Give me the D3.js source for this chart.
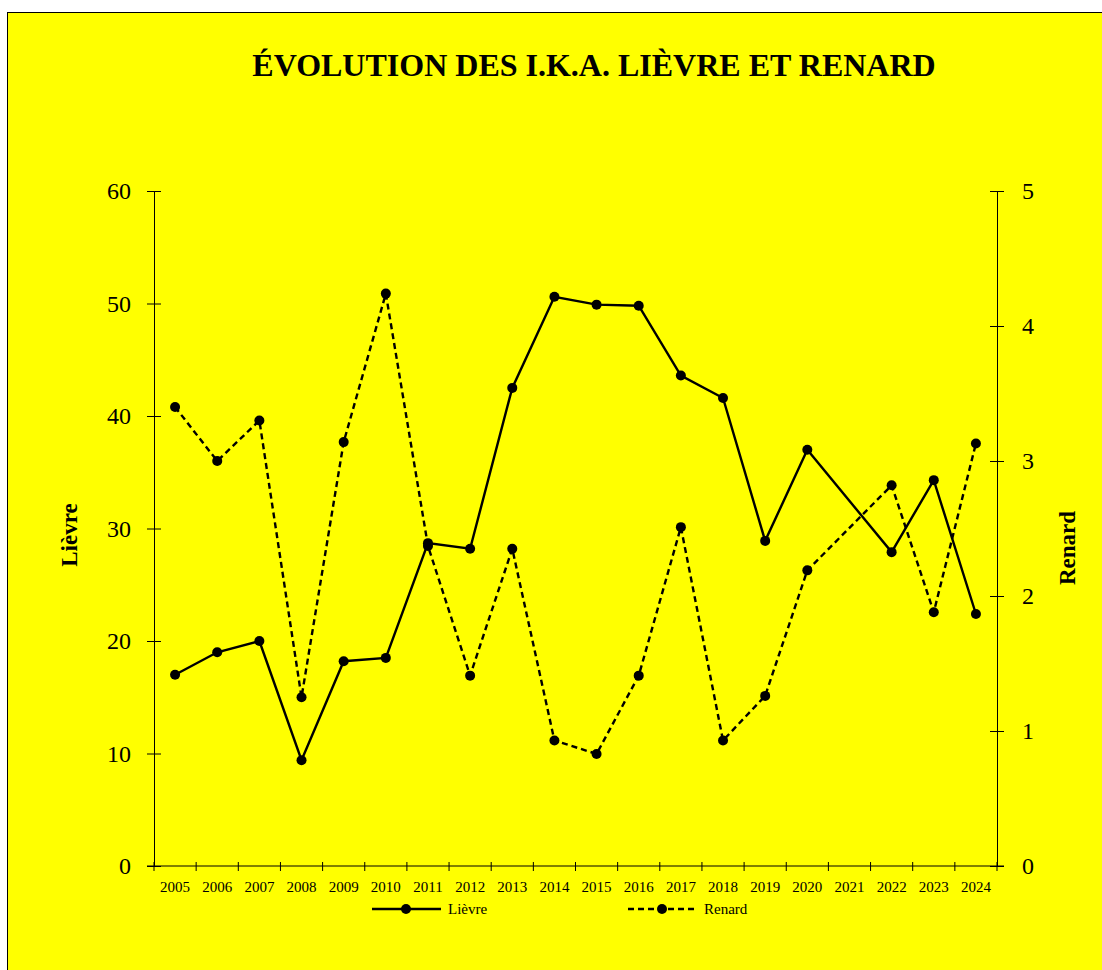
<!DOCTYPE html>
<html>
<head>
<meta charset="utf-8">
<script src="https://cdn.jsdelivr.net/npm/d3@7"></script>
<style>
  body { margin: 0; background: #fff; }
  svg { display: block; font-family: "Liberation Serif", "Times New Roman", serif; }
</style>
</head>
<body>
<div class="chart"></div>
<script>
// data
var years = ['2005','2006','2007','2008','2009','2010','2011','2012','2013','2014',
             '2015','2016','2017','2018','2019','2020','2021','2022','2023','2024'];
var lievre = [17, 19, 20, 9.4, 18.2, 18.5, 28.7, 28.2, 42.5, 50.6,
              49.9, 49.8, 43.6, 41.6, 28.9, 37, null, 27.9, 34.3, 22.4];
var renard = [3.4, 3.0, 3.3, 1.25, 3.14, 4.24, 2.37, 1.41, 2.35, 0.93,
              0.83, 1.41, 2.51, 0.93, 1.26, 2.19, null, 2.82, 1.88, 3.13];
var leftTicks = [0, 10, 20, 30, 40, 50, 60];
var rightTicks = [0, 1, 2, 3, 4, 5];
var legends = [{ text: 'Lièvre', dash: null }, { text: 'Renard', dash: '6,4' }];

var W = 1102, H = 970,
  plot = { left: 154, right: 997, top: 191, bottom: 866 };

var svg = d3.select('.chart')
  .append('svg')
    .attr('width', W)
    .attr('height', H);

// yellow frame
svg.append('rect')
  .attr('x', 7.5).attr('y', 12.5)
  .attr('width', W).attr('height', H)
  .attr('fill', '#ffff00')
  .attr('stroke', '#000')
  .attr('stroke-width', 1);

svg.append('text')
  .attr('x', 594).attr('y', 76)
  .attr('text-anchor', 'middle')
  .style('font-size', '32px')
  .style('font-weight', 'bold')
  .text('ÉVOLUTION DES I.K.A. LIÈVRE ET RENARD');

var x = d3.scaleBand()
  .domain(years)
  .range([plot.left, plot.right])
  .padding(0);

var yL = d3.scaleLinear().domain([0, 60]).range([plot.bottom, plot.top]);
var yR = d3.scaleLinear().domain([0, 5]).range([plot.bottom, plot.top]);

// left axis
var gL = svg.append('g')
  .attr('transform', `translate(${plot.left}, 0)`)
  .call(d3.axisLeft(yL).tickValues(leftTicks).tickSize(7).tickPadding(16).tickSizeOuter(0));
gL.selectAll('.tick line').attr('x2', -7).attr('x1', 7);
gL.selectAll('text').style('font-size', '24px').style('font-family', 'Liberation Serif');

// right axis
var gR = svg.append('g')
  .attr('transform', `translate(${plot.right}, 0)`)
  .call(d3.axisRight(yR).tickValues(rightTicks).tickFormat(d3.format('d'))
    .tickSize(7).tickPadding(18).tickSizeOuter(0));
gR.selectAll('.tick line').attr('x1', -7).attr('x2', 7);
gR.selectAll('text').style('font-size', '24px').style('font-family', 'Liberation Serif');

// x axis: labels centered in bands, ticks at band edges
var gX = svg.append('g')
  .attr('transform', `translate(0, ${plot.bottom})`)
  .call(d3.axisBottom(x).tickSize(0).tickPadding(15).tickSizeOuter(0));
gX.select('.domain').attr('d', `M${plot.left - 7},0H${plot.right + 7}`);
gX.selectAll('text').style('font-size', '15px').style('font-family', 'Liberation Serif');
gX.selectAll('.edge')
  .data(years.map(d => x(d)).concat([plot.right]))
  .enter()
  .append('line')
    .attr('class', 'edge')
    .attr('x1', d => d).attr('x2', d => d)
    .attr('y1', -4).attr('y2', 5)
    .attr('stroke', '#000');

gX.selectAll('path, line').attr('stroke', '#000');
gL.selectAll('path, line').attr('stroke', '#000');
gR.selectAll('path, line').attr('stroke', '#000');

// axis titles
svg.append('text')
  .attr('transform', 'translate(77, 535) rotate(-90)')
  .attr('text-anchor', 'middle')
  .style('font-size', '23px').style('font-weight', 'bold')
  .text('Lièvre');
svg.append('text')
  .attr('transform', 'translate(1075, 548) rotate(-90)')
  .attr('text-anchor', 'middle')
  .style('font-size', '23px').style('font-weight', 'bold')
  .text('Renard');

// series
function drawSeries(values, y, dash) {
  var pts = years.map((d, i) => ({ year: d, v: values[i] })).filter(d => d.v != null);
  var line = d3.line()
    .x(d => x(d.year) + x.bandwidth() / 2)
    .y(d => y(d.v));
  svg.append('path')
    .datum(pts)
    .attr('d', line)
    .attr('fill', 'none')
    .attr('stroke', '#000')
    .attr('stroke-width', 2.4)
    .attr('stroke-dasharray', dash);
  svg.append('g').selectAll('circle')
    .data(pts)
    .enter()
    .append('circle')
      .attr('cx', d => x(d.year) + x.bandwidth() / 2)
      .attr('cy', d => y(d.v))
      .attr('r', 5)
      .attr('fill', '#000');
}
drawSeries(lievre, yL, null);
drawSeries(renard, yR, '6,4');

// legend
var legend = svg.selectAll('.legend')
  .data(legends)
  .enter()
  .append('g')
    .attr('class', 'legend')
    .attr('transform', (d, i) => `translate(${372 + i * 256}, 909)`);
legend.append('line')
  .attr('x1', 0).attr('x2', 69)
  .attr('stroke', '#000').attr('stroke-width', 2.4)
  .attr('stroke-dasharray', d => d.dash);
legend.append('circle')
  .attr('cx', 34).attr('r', 5).attr('fill', '#000');
legend.append('text')
  .attr('x', 76).attr('dy', '.35em')
  .style('font-size', '15px')
  .text(d => d.text);
</script>
</body>
</html>
